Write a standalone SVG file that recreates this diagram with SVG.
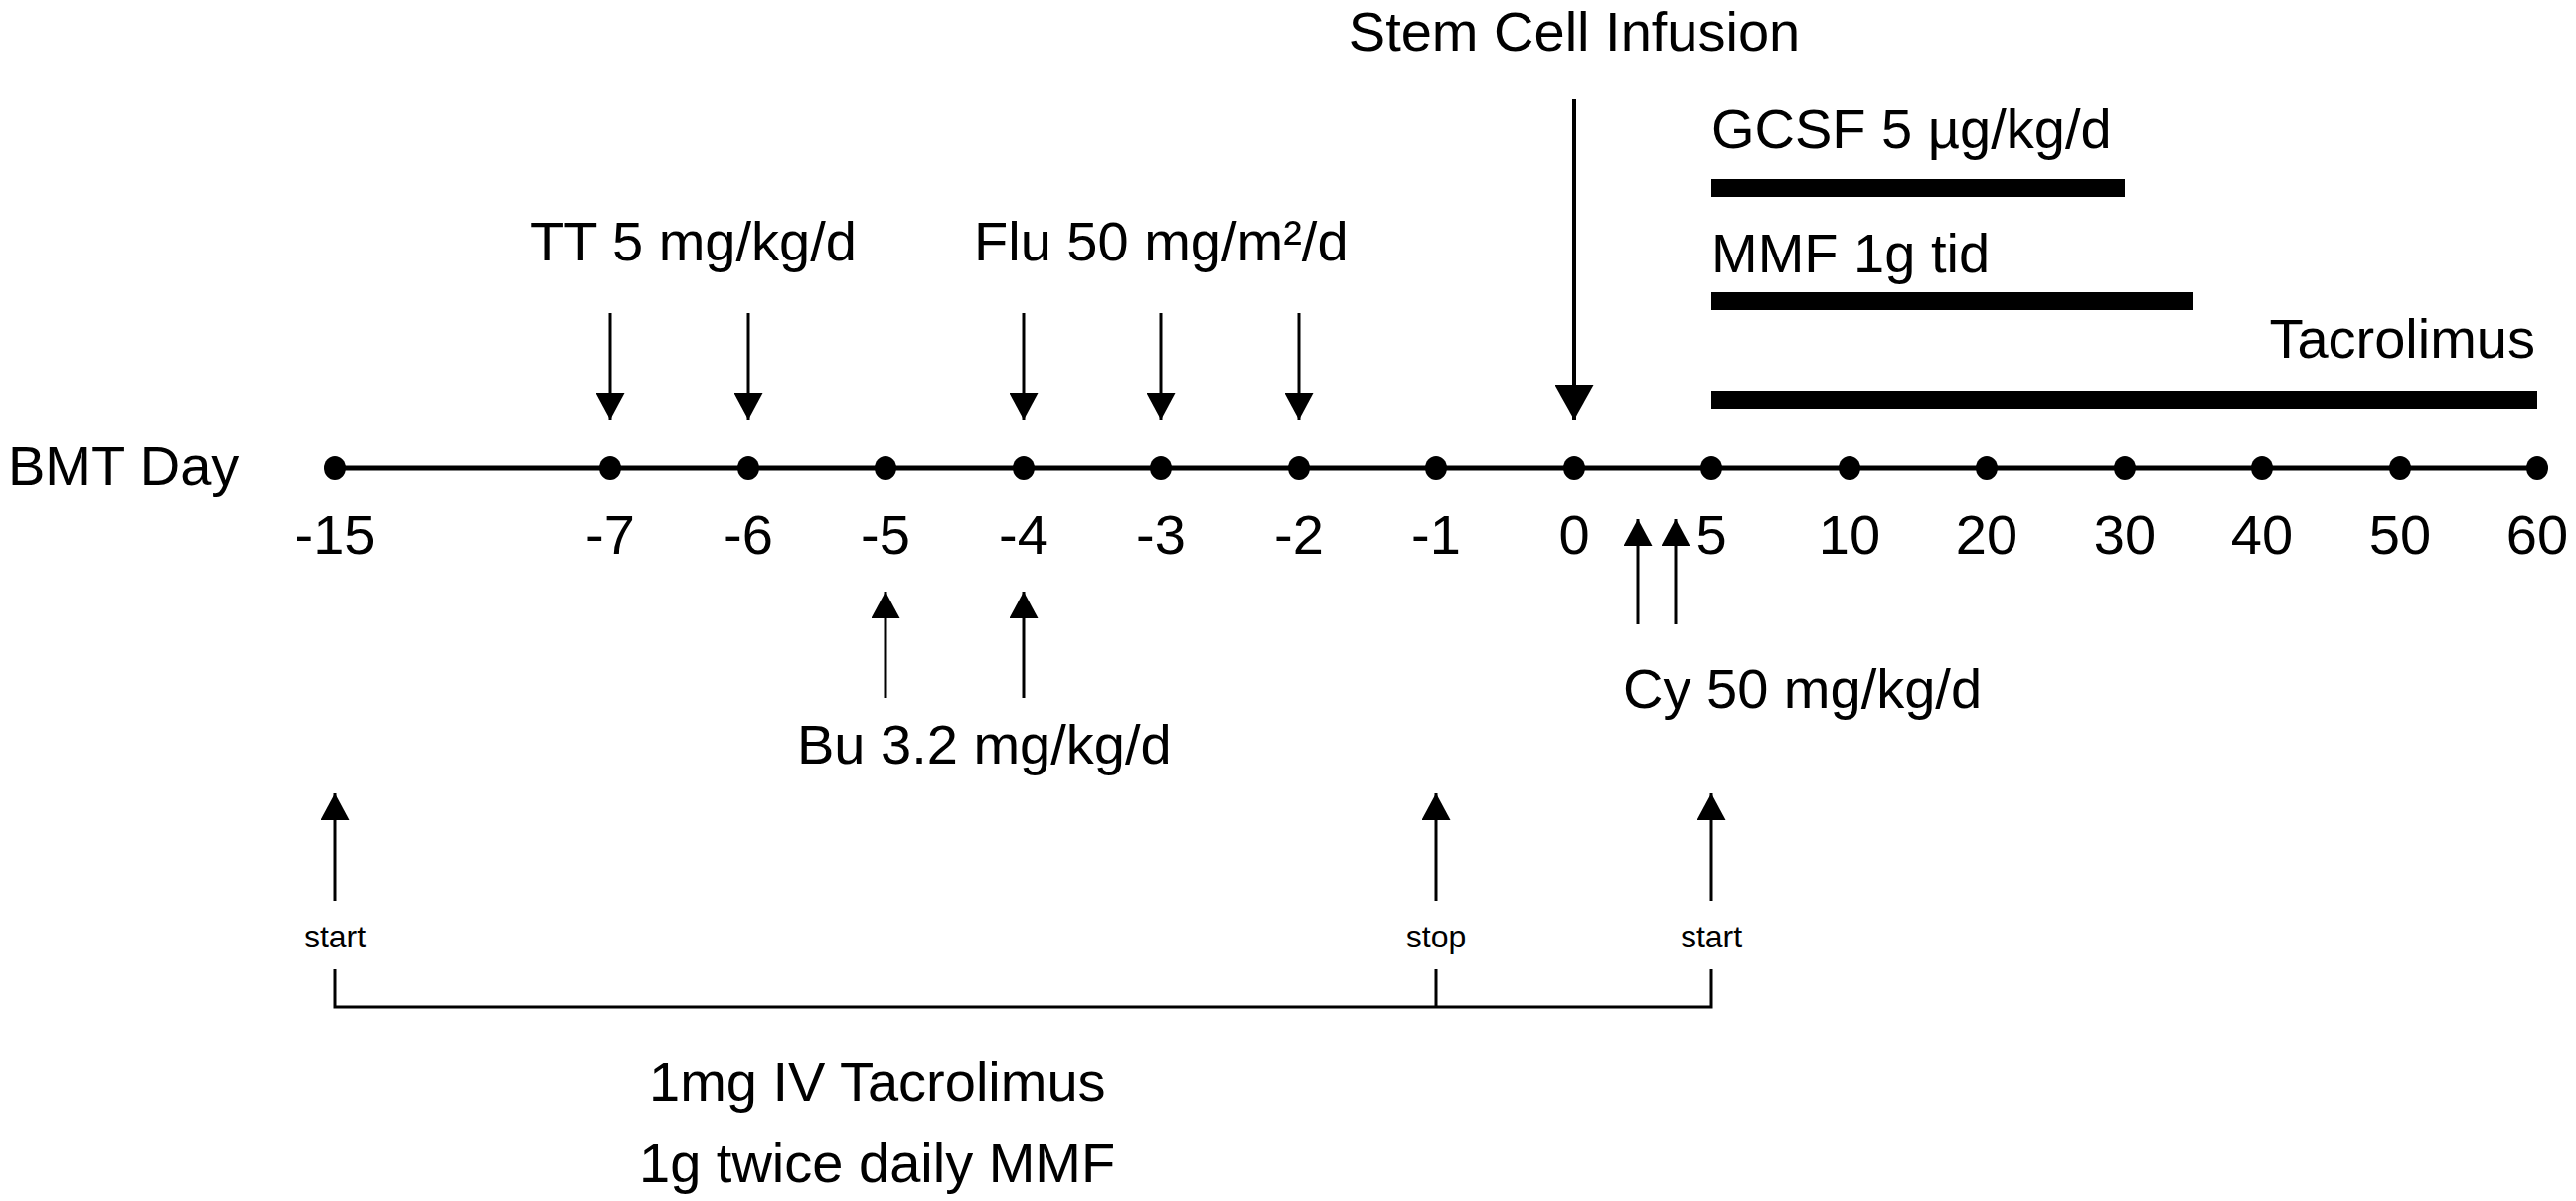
<svg xmlns="http://www.w3.org/2000/svg" width="2592" height="1208" viewBox="0 0 2592 1208">
<style>
text{font-family:"Liberation Sans",Arial,Helvetica,sans-serif;fill:#000}
.lbl{font-size:56px}
.ax{font-size:56px;text-anchor:middle}
.sm{font-size:32px;text-anchor:middle}
.arr{stroke:#000;stroke-width:3;fill:none;marker-end:url(#head)}
.big{stroke:#000;stroke-width:4;fill:none;marker-end:url(#bighead)}
.bar{stroke:#000;stroke-width:18;fill:none}
.dot{fill:#000}
</style>
<defs>
<marker id="head" markerUnits="userSpaceOnUse" viewBox="0 0 27 29" refX="27" refY="14.5" markerWidth="27" markerHeight="29" orient="auto">
<path d="M0,0 L27,14.5 L0,29 z" fill="#000"/>
</marker>
<marker id="bighead" markerUnits="userSpaceOnUse" viewBox="0 0 35 39" refX="35" refY="19.5" markerWidth="35" markerHeight="39" orient="auto">
<path d="M0,0 L35,19.5 L0,39 z" fill="#000"/>
</marker>
</defs>

<g id="timeline">
<line x1="337" y1="471" x2="2553" y2="471" stroke="#000" stroke-width="5"/>
<text class="lbl" x="8" y="488">BMT Day</text>
<g class="dots">
<ellipse class="dot" cx="337" cy="471" rx="11" ry="12"/>
<ellipse class="dot" cx="614" cy="471" rx="11" ry="12"/>
<ellipse class="dot" cx="753" cy="471" rx="11" ry="12"/>
<ellipse class="dot" cx="891" cy="471" rx="11" ry="12"/>
<ellipse class="dot" cx="1030" cy="471" rx="11" ry="12"/>
<ellipse class="dot" cx="1168" cy="471" rx="11" ry="12"/>
<ellipse class="dot" cx="1307" cy="471" rx="11" ry="12"/>
<ellipse class="dot" cx="1445" cy="471" rx="11" ry="12"/>
<ellipse class="dot" cx="1584" cy="471" rx="11" ry="12"/>
<ellipse class="dot" cx="1722" cy="471" rx="11" ry="12"/>
<ellipse class="dot" cx="1861" cy="471" rx="11" ry="12"/>
<ellipse class="dot" cx="1999" cy="471" rx="11" ry="12"/>
<ellipse class="dot" cx="2138" cy="471" rx="11" ry="12"/>
<ellipse class="dot" cx="2276" cy="471" rx="11" ry="12"/>
<ellipse class="dot" cx="2415" cy="471" rx="11" ry="12"/>
<ellipse class="dot" cx="2553" cy="471" rx="11" ry="12"/>
</g>
<g class="ticks">
<text class="ax" x="337" y="557">-15</text>
<text class="ax" x="614" y="557">-7</text>
<text class="ax" x="753" y="557">-6</text>
<text class="ax" x="891" y="557">-5</text>
<text class="ax" x="1030" y="557">-4</text>
<text class="ax" x="1168" y="557">-3</text>
<text class="ax" x="1307" y="557">-2</text>
<text class="ax" x="1445" y="557">-1</text>
<text class="ax" x="1584" y="557">0</text>
<text class="ax" x="1722" y="557">5</text>
<text class="ax" x="1861" y="557">10</text>
<text class="ax" x="1999" y="557">20</text>
<text class="ax" x="2138" y="557">30</text>
<text class="ax" x="2276" y="557">40</text>
<text class="ax" x="2415" y="557">50</text>
<text class="ax" x="2553" y="557">60</text>
</g>
</g>

<g id="stem-cell">
<text class="lbl" x="1584" y="51" text-anchor="middle">Stem Cell Infusion</text>
</g>
<g id="tt">
<text class="lbl" x="533" y="262">TT 5 mg/kg/d</text>
</g>
<g id="flu">
<text class="lbl" x="980" y="262">Flu 50 mg/m²/d</text>
</g>
<g id="gcsf">
<text class="lbl" x="1722" y="149">GCSF 5 µg/kg/d</text>
<line class="bar" x1="1722" y1="189" x2="2138" y2="189"/>
</g>
<g id="mmf">
<text class="lbl" x="1722" y="274">MMF 1g tid</text>
<line class="bar" x1="1722" y1="303" x2="2207" y2="303"/>
</g>
<g id="tacrolimus">
<text class="lbl" x="2551" y="360" text-anchor="end">Tacrolimus</text>
<line class="bar" x1="1722" y1="402" x2="2553" y2="402"/>
</g>
<g id="bu">
<text class="lbl" x="802" y="768">Bu 3.2 mg/kg/d</text>
</g>
<g id="cy">
<text class="lbl" x="1633" y="712">Cy 50 mg/kg/d</text>
</g>
<g id="bottom">
<text class="sm" x="337" y="953">start</text>
<text class="sm" x="1445" y="953">stop</text>
<text class="sm" x="1722" y="953">start</text>
<text class="lbl" x="653" y="1107">1mg IV Tacrolimus</text>
<text class="lbl" x="643" y="1189">1g twice daily MMF</text>
</g>

<g id="connectors">
<line class="big" x1="1584" y1="100" x2="1584" y2="422"/>
<line class="arr" x1="614" y1="315" x2="614" y2="422"/>
<line class="arr" x1="753" y1="315" x2="753" y2="422"/>
<line class="arr" x1="1030" y1="315" x2="1030" y2="422"/>
<line class="arr" x1="1168" y1="315" x2="1168" y2="422"/>
<line class="arr" x1="1307" y1="315" x2="1307" y2="422"/>
<line class="arr" x1="891" y1="702" x2="891" y2="595"/>
<line class="arr" x1="1030" y1="702" x2="1030" y2="595"/>
<line class="arr" x1="1648" y1="628" x2="1648" y2="522"/>
<line class="arr" x1="1686" y1="628" x2="1686" y2="522"/>
<line class="arr" x1="337" y1="906" x2="337" y2="798"/>
<line class="arr" x1="1445" y1="906" x2="1445" y2="798"/>
<line class="arr" x1="1722" y1="906" x2="1722" y2="798"/>
<path d="M337,975 V1013 H1722 V975 M1445,975 V1013" stroke="#000" stroke-width="3" fill="none"/>
</g>
</svg>
